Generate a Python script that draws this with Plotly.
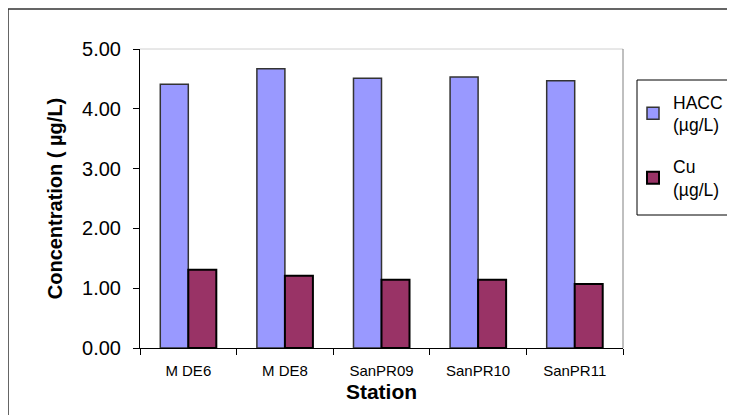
import plotly.graph_objects as go

stations = ["M DE6", "M DE8", "SanPR09", "SanPR10", "SanPR11"]
hacc = [4.41, 4.67, 4.51, 4.53, 4.47]
cu = [1.31, 1.21, 1.14, 1.14, 1.07]
series_names = ["HACC<br>(µg/L)", "Cu<br>(µg/L)"]
y_ticks = [0, 1, 2, 3, 4, 5]

FONT = "Arial, 'Liberation Sans', sans-serif"

fig = go.Figure()
fig.add_trace(go.Bar(x=stations, y=hacc, name=series_names[0], legendgroup="hacc",
                     marker=dict(color="#9999FF", line=dict(color="#333333", width=1.5))))
fig.add_trace(go.Bar(x=stations, y=cu, name=series_names[1], legendgroup="cu",
                     marker=dict(color="#993366", line=dict(color="#000000", width=2))))

# page body has an 8px margin; window coordinates are shifted by OFF
OFF = 8
W, H = 735 - OFF, 415 - OFF
L, T = 140 - OFF, 49 - OFF
pw, ph = 483, 299
R, B = W - L - pw, H - T - ph

def px_x(x):
    return (x - OFF - L) / pw

def px_y(y):
    return 1 - (y - OFF - T) / ph

fig.update_layout(
    width=W, height=H,
    margin=dict(l=L, r=R, t=T, b=B, autoexpand=False),
    paper_bgcolor="white", plot_bgcolor="white",
    barmode="group", bargap=0.42, bargroupgap=0,
    font=dict(family=FONT, color="black"),
    showlegend=True,
    legend=dict(x=px_x(637), y=px_y(84), xanchor="left", yanchor="top",
                borderwidth=0, bgcolor="rgba(0,0,0,0)",
                font=dict(size=17.5, family=FONT), tracegroupgap=16, traceorder="grouped",
                itemwidth=30, indentation=-4),
    xaxis=dict(showline=True, linecolor="black", linewidth=1,
               ticks="outside", tickson="boundaries", ticklen=6, tickcolor="black",
               tickfont=dict(size=15, family=FONT), ticklabelstandoff=9,
               title=dict(text="<b>Station</b>", font=dict(size=21, family=FONT), standoff=6),
               showgrid=False, mirror=False),
    yaxis=dict(range=[0, 5], tickvals=y_ticks, tickformat=".2f",
               showline=True, linecolor="black", linewidth=1,
               ticks="outside", ticklen=6, tickcolor="black",
               tickfont=dict(size=20, family=FONT), ticklabelstandoff=8,
               title=dict(text="<b>Concentration ( µg/L)</b>", font=dict(size=20, family=FONT), standoff=14),
               showgrid=False, zeroline=False),
)

# outer chart border
fig.add_shape(type="rect", xref="paper", yref="paper",
              x0=px_x(8), x1=px_x(760), y0=px_y(440), y1=px_y(9),
              line=dict(color="#333333", width=1.5), fillcolor="rgba(0,0,0,0)", layer="below")
# legend box (extends past the right edge, as in the source)
fig.add_shape(type="rect", xref="paper", yref="paper",
              x0=px_x(637), x1=px_x(760), y0=px_y(215), y1=px_y(80),
              line=dict(color="black", width=1), fillcolor="white", layer="below")
# plot area top and right borders
fig.add_shape(type="line", xref="paper", yref="paper", x0=0, x1=1, y0=1, y1=1,
              line=dict(color="#D0D0D0", width=1))
fig.add_shape(type="line", xref="paper", yref="paper", x0=1, x1=1, y0=0, y1=1,
              line=dict(color="#808080", width=1))

fig.write_html("out.html")
